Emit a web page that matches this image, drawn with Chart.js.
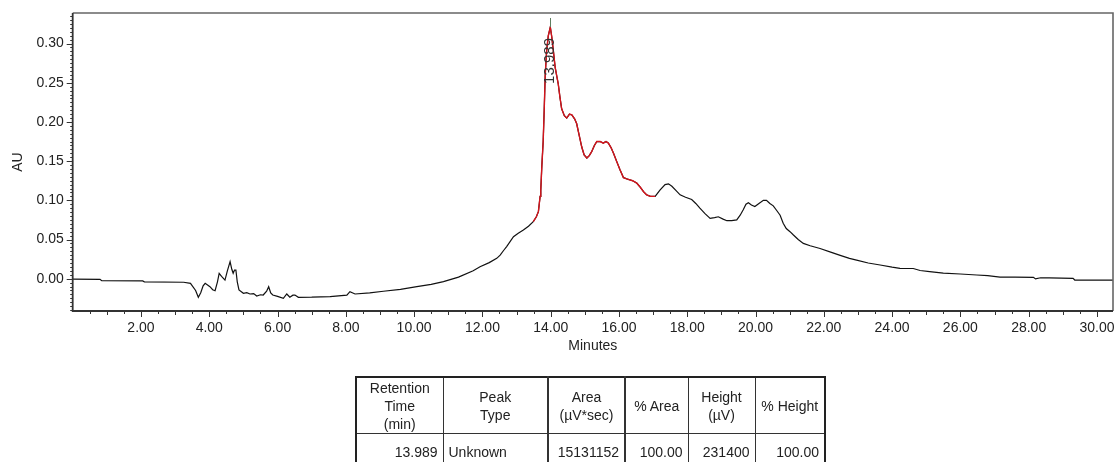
<!DOCTYPE html>
<html>
<head>
<meta charset="utf-8">
<script src="https://cdn.jsdelivr.net/npm/chart.js@4.4.1/dist/chart.umd.min.js"></script>
<style>
  html, body { margin: 0; padding: 0; background: #fff; overflow: hidden; width: 1115px; height: 462px; }
  #wrap { position: relative; width: 1115px; height: 462px; }
  canvas { position: absolute; left: 0; top: 0; }
  table.res {
    position: absolute; left: 355px; top: 376px; width: 469px;
    border-collapse: collapse; table-layout: fixed;
    font-family: "Liberation Sans", Arial, sans-serif; font-size: 14px; color: #222;
    border: 2px solid #222;
  }
  table.res th, table.res td { border: 1px solid #333; padding: 0; overflow: hidden; white-space: nowrap; }
  table.res th { font-weight: normal; text-align: center; line-height: 18px; height: 55px; }
  table.res td { vertical-align: top; line-height: 18px; height: 38px; padding-top: 9px; }
  table.res .r { text-align: right; padding-right: 5px; }
  table.res .l { text-align: left; padding-left: 5px; }
  table.res .thick { border-left: 2px solid #333; }
</style>
</head>
<body>
<div id="wrap">
  <canvas id="c" width="1115" height="462"></canvas>
  <table class="res" id="tbl"></table>
</div>
<script>
// ---- data ----
const times = [0.00, 0.80, 0.85, 2.05, 2.10, 3.25, 3.45,
  3.60, 3.68, 3.75, 3.82, 3.88, 3.95, 4.02, 4.10, 4.17, 4.24, 4.29, 4.36, 4.46, 4.53, 4.61, 4.66, 4.70, 4.74, 4.78, 4.82, 4.87,
  5.00, 5.10, 5.19, 5.30, 5.39, 5.50, 5.58, 5.68, 5.74, 5.80, 5.86, 6.00, 6.17, 6.27, 6.36, 6.45, 6.51, 6.61,
  7.00, 7.54, 8.03, 8.12, 8.27, 8.70, 9.10, 9.60, 10.08, 10.50, 10.86, 11.30, 11.73, 11.93, 12.20, 12.42, 12.52, 12.62, 12.71, 12.91,
  13.05, 13.20, 13.35, 13.49, 13.58, 13.64, 13.69, 13.71, 13.74, 13.78, 13.81, 13.84, 13.88, 13.93, 13.989, 14.03, 14.08, 14.13, 14.18, 14.22, 14.27, 14.32,
  14.40, 14.47, 14.55, 14.62, 14.70, 14.76, 14.84, 14.91, 14.98, 15.06, 15.13, 15.20, 15.28, 15.35, 15.45, 15.54, 15.62, 15.69, 15.77, 15.84, 15.93,
  16.03, 16.13, 16.25, 16.40, 16.52, 16.62, 16.72, 16.81, 16.92, 17.06, 17.20, 17.35, 17.45, 17.55, 17.68, 17.79, 17.95, 18.13, 18.25, 18.37, 18.52, 18.67,
  18.80, 18.91, 19.05, 19.16, 19.30, 19.45, 19.55, 19.64, 19.72, 19.79, 19.88, 19.98, 20.10, 20.23, 20.32, 20.42, 20.52, 20.62, 20.72, 20.81, 20.90,
  21.01, 21.11, 21.25, 21.40, 21.60, 21.89, 22.20, 22.48, 22.75, 22.96, 23.30, 23.65, 24.00, 24.23, 24.62, 24.82, 25.10, 25.50, 26.00, 26.48, 26.80,
  27.16, 27.60, 28.14, 28.20, 28.35, 28.60, 29.30, 29.35, 30.47];
const au = [-0.0005, -0.0008, -0.0026, -0.0028, -0.0040, -0.0045, -0.0060,
  -0.0150, -0.0237, -0.0180, -0.0090, -0.0059, -0.0080, -0.0102, -0.0140, -0.0153, -0.0040, 0.0069, 0.0030, -0.0017, 0.0100, 0.0217, 0.0120, 0.0069, 0.0110, 0.0111, -0.0040, -0.0144,
  -0.0186, -0.0178, -0.0195, -0.0190, -0.0221, -0.0205, -0.0208, -0.0160, -0.0102, -0.0180, -0.0208, -0.0225, -0.0250, -0.0195, -0.0237, -0.0210, -0.0208, -0.0237,
  -0.0236, -0.0228, -0.0210, -0.0166, -0.0195, -0.0180, -0.0160, -0.0135, -0.0102, -0.0072, -0.0038, 0.0020, 0.0102, 0.0153, 0.0205, 0.0260, 0.0300, 0.0360, 0.0410, 0.0536,
  0.0580, 0.0621, 0.0670, 0.0727, 0.0790, 0.0855, 0.1050, 0.1130, 0.1430, 0.1750, 0.2150, 0.2600, 0.2900, 0.3100, 0.3210, 0.3090, 0.2900, 0.2700, 0.2580, 0.2490, 0.2320, 0.2170,
  0.2080, 0.2050, 0.2100, 0.2090, 0.2040, 0.1980, 0.1820, 0.1680, 0.1580, 0.1540, 0.1570, 0.1620, 0.1700, 0.1750, 0.1750, 0.1730, 0.1750, 0.1730, 0.1670, 0.1600, 0.1500,
  0.1390, 0.1290, 0.1270, 0.1250, 0.1220, 0.1170, 0.1110, 0.1070, 0.1050, 0.1050, 0.1130, 0.1200, 0.1210, 0.1180, 0.1120, 0.1070, 0.1040, 0.1010, 0.0960, 0.0900, 0.0830, 0.0770,
  0.0780, 0.0790, 0.0760, 0.0740, 0.0740, 0.0750, 0.0810, 0.0880, 0.0950, 0.0970, 0.0940, 0.0920, 0.0960, 0.1000, 0.1000, 0.0960, 0.0930, 0.0870, 0.0810, 0.0707, 0.0640,
  0.0600, 0.0557, 0.0500, 0.0451, 0.0420, 0.0385, 0.0340, 0.0298, 0.0260, 0.0238, 0.0200, 0.0175, 0.0148, 0.0133, 0.0130, 0.0105, 0.0090, 0.0072, 0.0060, 0.0047, 0.0040,
  0.0020, 0.0019, 0.0018, -0.0002, 0.0012, 0.0010, 0.0005, -0.0017, -0.0017];

const peakStart = 13.49, peakEnd = 17.06;           // integrated region (red)
const xMin = 0, xMax = 30.47, yMin = -0.0412, yMax = 0.339;
const xTickStep = 2, xMinorStep = 0.5, yTickStep = 0.05, yMinorStep = 0.005;

// peak table
const tblHeaders = [["Retention", "Time", "(min)"], ["Peak", "Type"], ["Area", "(\u00b5V*sec)"], ["% Area"], ["Height", "(\u00b5V)"], ["% Height"]];
const retentionTime = [13.989];
const peakType = ["Unknown"];
const peakArea = [15131152];
const pctArea = [100.00];
const peakHeight = [231400];
const pctHeight = [100.00];

// ---- build table ----
(function () {
  const widths = [87, 105, 77, 63, 67, 70];
  const tbl = document.getElementById('tbl');
  let cg = '<colgroup>' + widths.map(w => `<col style="width:${w}px">`).join('') + '</colgroup>';
  let h = '<tr>' + tblHeaders.map((lines, i) => `<th class="${(i === 2 || i === 3) ? 'thick' : ''}">${lines.join('<br>')}</th>`).join('') + '</tr>';
  let rows = '';
  for (let i = 0; i < retentionTime.length; i++) {
    rows += '<tr>' +
      `<td class="r">${retentionTime[i].toFixed(3)}</td>` +
      `<td class="l">${peakType[i]}</td>` +
      `<td class="r thick">${peakArea[i]}</td>` +
      `<td class="r thick">${pctArea[i].toFixed(2)}</td>` +
      `<td class="r">${peakHeight[i]}</td>` +
      `<td class="r">${pctHeight[i].toFixed(2)}</td></tr>`;
  }
  tbl.innerHTML = cg + h + rows;
})();

// ---- chart ----
const allPts = times.map((t, i) => ({ x: t, y: au[i] }));
const redPts = allPts.filter(p => p.x >= peakStart && p.x <= peakEnd);

const FONT = { family: '"Liberation Sans", Arial, sans-serif', size: 14 };
const TXT = '#222';

const framePlugin = {
  id: 'frame',
  afterDraw(chart) {
    const { ctx, chartArea: a, scales: { x, y } } = chart;
    ctx.save();
    // top/right border
    ctx.strokeStyle = '#666'; ctx.lineWidth = 1.6;
    ctx.beginPath();
    ctx.moveTo(a.left, a.top); ctx.lineTo(a.right, a.top); ctx.lineTo(a.right, a.bottom);
    ctx.stroke();
    // axes
    ctx.strokeStyle = '#333'; ctx.lineWidth = 1.8;
    ctx.beginPath();
    ctx.moveTo(a.left, a.top); ctx.lineTo(a.left, a.bottom); ctx.lineTo(a.right, a.bottom);
    ctx.stroke();
    // x ticks
    ctx.lineWidth = 1; ctx.strokeStyle = '#333';
    ctx.beginPath();
    const nx = Math.round((xMax - xMin) / xMinorStep);
    for (let i = 1; i <= nx; i++) {
      const v = xMin + i * xMinorStep;
      if (v > xMax) break;
      const px = Math.round(x.getPixelForValue(v)) + 0.5;
      const major = Math.abs(v / xTickStep - Math.round(v / xTickStep)) < 1e-6;
      const mid = !major && Math.abs(v - Math.round(v)) < 1e-6;
      const len = major ? 6 : (mid ? 4 : 3);
      ctx.moveTo(px, a.bottom); ctx.lineTo(px, a.bottom + len);
    }
    // y ticks
    const ny = Math.round((yMax - yMin) / yMinorStep) + 20;
    for (let i = -20; i <= ny; i++) {
      const v = i * yMinorStep;
      if (v < yMin || v > yMax) continue;
      const py = Math.round(y.getPixelForValue(v)) + 0.5;
      const major = Math.abs(v / yTickStep - Math.round(v / yTickStep)) < 1e-6;
      const len = major ? 6 : 2.5;
      ctx.moveTo(a.left, py); ctx.lineTo(a.left - len, py);
    }
    ctx.stroke();

    // peak marker and retention label
    const rt = retentionTime[0];
    let apex = -Infinity;
    redPts.forEach(p => { if (p.y > apex) apex = p.y; });
    const mx = x.getPixelForValue(rt);
    const topY = a.top + 5;
    ctx.strokeStyle = '#5f7f60'; ctx.lineWidth = 1;
    ctx.beginPath();
    ctx.moveTo(Math.round(mx) + 0.5, topY);
    ctx.lineTo(Math.round(mx) + 0.5, y.getPixelForValue(apex));
    ctx.stroke();
    ctx.translate(mx, topY + 20);
    ctx.rotate(-Math.PI / 2);
    ctx.font = `15px ${FONT.family}`;
    ctx.fillStyle = '#333';
    ctx.textAlign = 'right';
    ctx.textBaseline = 'middle';
    ctx.fillText(rt.toFixed(3), 0, 0);
    ctx.restore();
  }
};

new Chart(document.getElementById('c'), {
  type: 'line',
  data: {
    datasets: [
      { data: redPts, borderColor: '#d4141c', borderWidth: 1.4, pointRadius: 0, tension: 0, order: 0 },
      { data: allPts, borderColor: '#111', borderWidth: 1.2, pointRadius: 0, tension: 0, order: 1 }
    ]
  },
  options: {
    responsive: false,
    animation: false,
    events: [],
    layout: { padding: { top: 13, right: 2, left: 0, bottom: 107.6 } },
    plugins: { legend: { display: false }, tooltip: { enabled: false } },
    scales: {
      x: {
        type: 'linear', min: xMin, max: xMax,
        grid: { display: false, drawTicks: false }, border: { display: false },
        ticks: {
          stepSize: xTickStep, includeBounds: false, autoSkip: false, maxRotation: 0, padding: 9,
          font: FONT, color: TXT,
          callback: v => (Math.abs(v) < 1e-9 ? '' : Number(v).toFixed(2))
        },
        title: { display: true, text: 'Minutes', font: FONT, color: TXT, padding: 0 },
        afterFit(s) { s.height = 43.4; s.paddingLeft = 0; s.paddingRight = 0; }
      },
      y: {
        type: 'linear', min: yMin, max: yMax,
        grid: { display: false, drawTicks: false }, border: { display: false },
        ticks: {
          stepSize: yTickStep, includeBounds: false, autoSkip: false, padding: 9,
          font: FONT, color: TXT,
          callback: v => Number(v).toFixed(2)
        },
        title: { display: true, text: 'AU', font: FONT, color: TXT, padding: { top: 10, bottom: 0 } },
        afterFit(s) { s.width = 72.7; s.paddingTop = 0; s.paddingBottom = 0; }
      }
    }
  },
  plugins: [framePlugin]
});
</script>
</body>
</html>
